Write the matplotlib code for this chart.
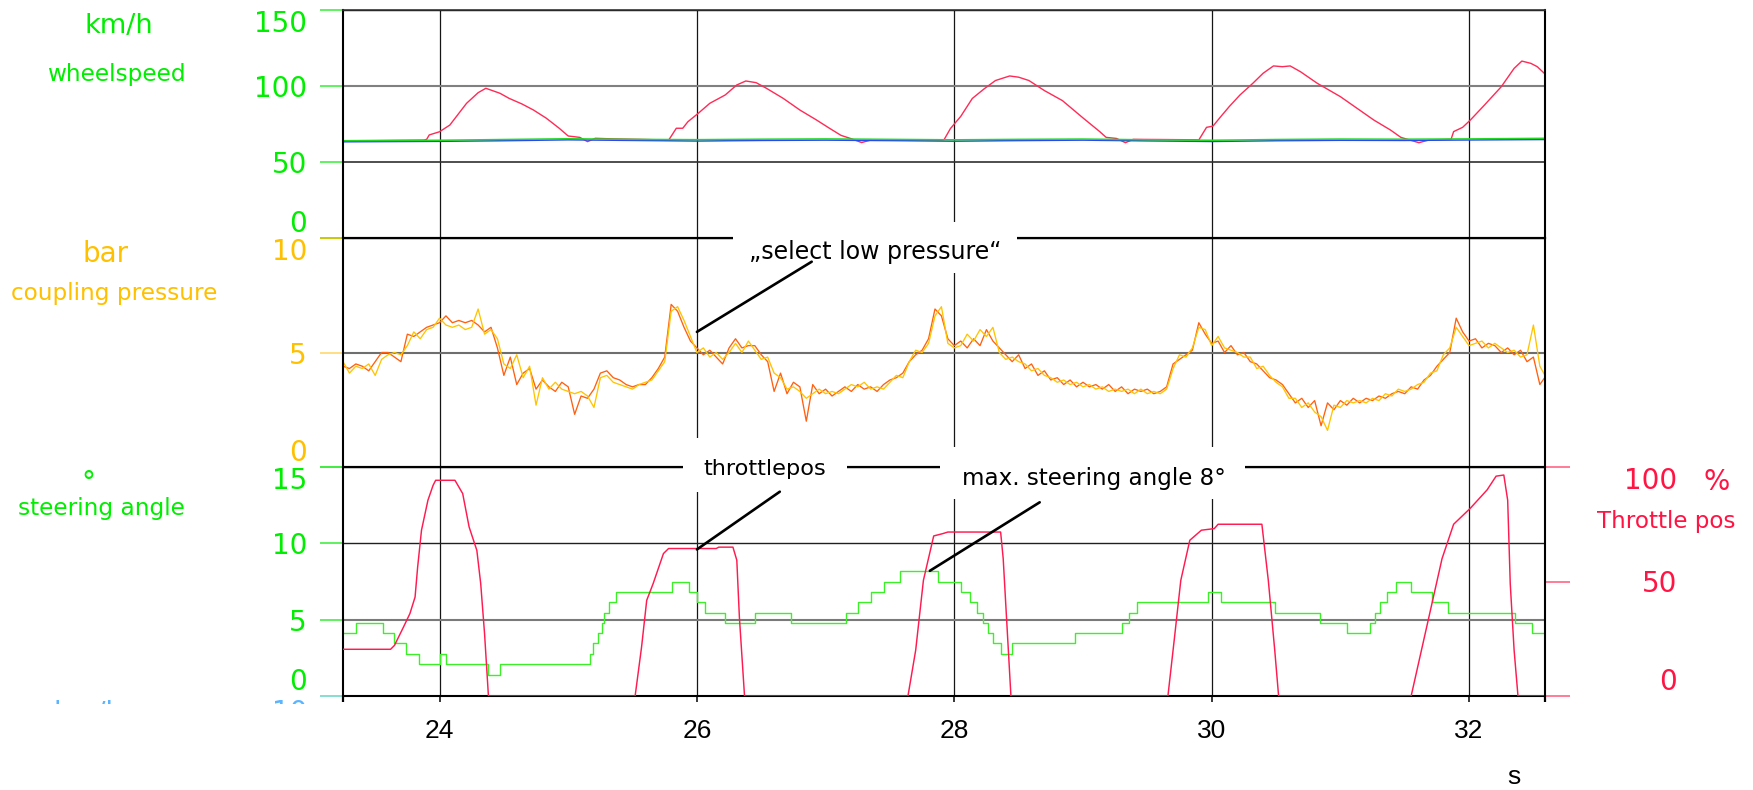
import numpy as np
import matplotlib
matplotlib.use("Agg")
import matplotlib.pyplot as plt
from matplotlib.patches import Rectangle, ConnectionPatch
from matplotlib.transforms import Bbox, TransformedBbox

plt.rcParams['font.family'] = ['DejaVu Sans']

# ---------------- data ----------------
x_range = (23.25, 32.59)
x_ticks = [24, 26, 28, 30, 32]
speed_ticks = [0, 50, 100, 150]
pressure_ticks = [0, 5, 10]
steer_ticks = [0, 5, 10, 15]
throttle_ticks = [0, 50, 100]

# panel 1: wheel speeds (km/h)
speed_red_t = [23.25, 23.5, 23.75, 23.88, 23.90, 23.92, 24.00, 24.08, 24.14, 24.21, 24.30, 24.36,
               24.47, 24.54, 24.64, 24.73, 24.83, 24.93, 25.00, 25.09, 25.15, 25.21, 25.35, 25.55,
               25.75, 25.78, 25.84, 25.89, 25.93, 26.01, 26.10, 26.22, 26.31, 26.38, 26.46, 26.54,
               26.67, 26.80, 26.93, 27.03, 27.12, 27.20, 27.28, 27.35, 27.6, 27.9, 27.92, 27.97,
               28.05, 28.14, 28.23, 28.32, 28.43, 28.50, 28.58, 28.70, 28.84, 29.00, 29.13, 29.18,
               29.26, 29.33, 29.39, 29.6, 29.88, 29.90, 29.96, 30.01, 30.07, 30.14, 30.22, 30.32,
               30.40, 30.48, 30.55, 30.61, 30.69, 30.82, 31.00, 31.13, 31.26, 31.39, 31.47, 31.61,
               31.69, 31.86, 31.88, 31.95, 32.01, 32.12, 32.25, 32.35, 32.41, 32.48, 32.53, 32.59]
speed_red_v = [64.0, 64.1, 64.3, 64.4, 64.9, 67.8, 69.9, 74.3, 80.9, 88.6, 95.6, 98.5,
               95.2, 91.9, 88.2, 84.2, 78.8, 72.2, 67.1, 66.2, 63.4, 65.6, 65.2, 64.9,
               64.5, 64.3, 72.2, 72.2, 76.5, 82.0, 88.6, 94.1, 100.7, 103.3, 102.2, 98.5,
               91.9, 84.2, 77.6, 72.2, 67.5, 65.3, 62.8, 64.4, 64.6, 64.4, 64.6, 72.0,
               80.0, 91.8, 98.0, 103.6, 106.6, 105.8, 103.6, 97.0, 90.4, 79.0, 70.0, 66.2,
               65.5, 62.7, 64.9, 64.8, 64.6, 64.5, 72.8, 73.6, 79.8, 86.8, 94.1, 101.8,
               108.4, 113.2, 112.7, 113.2, 109.4, 101.8, 93.0, 85.3, 77.6, 71.0, 66.2, 62.7,
               64.5, 64.9, 70.0, 72.8, 77.6, 87.5, 99.5, 111.6, 116.4, 114.9, 112.7, 107.9]
speed_flat_t = [23.25, 24.0, 24.5, 25.0, 25.5, 26.0, 26.5, 27.0, 27.5, 28.0, 28.5, 29.0,
                29.5, 30.0, 30.5, 31.0, 31.5, 32.0, 32.59]
speed_green_v = [64.0, 64.3, 64.8, 65.3, 64.9, 64.7, 65.0, 65.2, 64.9, 64.6, 64.9, 65.1,
                 64.6, 64.3, 64.8, 65.1, 65.0, 65.2, 65.6]
speed_blue_v = [63.3, 63.6, 64.0, 64.6, 64.2, 63.8, 64.2, 64.4, 64.1, 63.7, 64.1, 64.4,
                63.9, 63.5, 64.0, 64.3, 64.2, 64.5, 64.8]

# panel 2: coupling pressure (bar), sampled every 0.05 s from 23.25 s
pressure_t0 = 23.25
pressure_dt = 0.05
pressure_orange = [
    4.4, 4.3, 4.5, 4.4, 4.2, 4.6, 5.0, 5.0, 4.8, 4.6,
    5.8, 5.7, 5.9, 6.1, 6.2, 6.3, 6.6, 6.3, 6.4, 6.3,
    6.4, 6.2, 5.9, 6.1, 5.2, 4.0, 4.8, 3.6, 4.1, 4.3,
    3.4, 3.8, 3.5, 3.3, 3.7, 3.5, 2.3, 3.1, 3.0, 3.4,
    4.1, 4.2, 3.9, 3.8, 3.6, 3.5, 3.6, 3.6, 3.9, 4.3,
    4.8, 7.1, 6.8, 6.1, 5.5, 5.2, 4.9, 5.1, 4.8, 4.5,
    5.2, 5.6, 5.2, 5.3, 5.3, 4.9, 4.6, 3.3, 4.1, 3.2,
    3.7, 3.5, 2.0, 3.6, 3.2, 3.4, 3.1, 3.3, 3.5, 3.3,
    3.6, 3.4, 3.5, 3.3, 3.6, 3.8, 3.9, 4.1, 4.6, 4.9,
    5.1, 5.6, 6.9, 6.6, 5.6, 5.3, 5.5, 5.2, 5.6, 5.3,
    6.0, 5.5, 5.2, 4.9, 4.6, 4.9, 4.3, 4.5, 4.0, 4.2,
    3.8, 3.9, 3.6, 3.8, 3.5, 3.7, 3.5, 3.6, 3.4, 3.6,
    3.3, 3.5, 3.2, 3.4, 3.3, 3.4, 3.2, 3.3, 3.5, 4.5,
    4.7, 4.9, 5.1, 6.3, 5.8, 5.4, 5.5, 5.0, 5.3, 4.9,
    5.0, 4.6, 4.5, 4.2, 3.9, 3.8, 3.6, 3.2, 2.8, 3.0,
    2.6, 2.9, 1.8, 2.8, 2.5, 2.9, 2.7, 3.0, 2.8, 3.0,
    2.9, 3.1, 3.0, 3.2, 3.3, 3.2, 3.5, 3.4, 3.8, 4.0,
    4.4, 4.7, 5.0, 6.5, 5.9, 5.5, 5.6, 5.2, 5.4, 5.3,
    5.0, 5.2, 4.9, 5.1, 4.6, 4.8, 3.6, 4.0]
pressure_yellow = [
    4.6, 4.1, 4.4, 4.3, 4.5, 4.0, 4.7, 4.9, 5.0, 4.9,
    5.3, 5.9, 5.6, 6.0, 6.1, 6.5, 6.2, 6.1, 6.2, 6.0,
    6.1, 6.9, 5.8, 6.0, 5.6, 4.5, 4.3, 4.9, 3.9, 4.4,
    2.7, 3.9, 3.4, 3.7, 3.4, 3.3, 3.2, 3.3, 3.1, 2.6,
    3.9, 4.0, 3.7, 3.6, 3.5, 3.4, 3.6, 3.7, 3.8, 4.2,
    4.6, 6.8, 7.0, 6.4, 5.7, 5.0, 5.2, 4.8, 5.0, 4.7,
    5.0, 5.4, 5.0, 5.5, 5.1, 4.7, 4.8, 4.1, 3.9, 3.4,
    3.5, 3.3, 3.0, 3.2, 3.4, 3.2, 3.3, 3.2, 3.4, 3.6,
    3.5, 3.7, 3.4, 3.5, 3.4, 3.7, 4.0, 3.9, 4.6, 5.1,
    5.0, 5.4, 6.6, 7.0, 5.4, 5.2, 5.3, 5.8, 5.5, 6.0,
    5.7, 6.1, 5.0, 4.7, 4.8, 4.6, 4.5, 4.2, 4.3, 4.0,
    3.9, 3.7, 3.8, 3.6, 3.7, 3.5, 3.6, 3.4, 3.5, 3.3,
    3.4, 3.3, 3.4, 3.2, 3.4, 3.2, 3.3, 3.2, 3.4, 4.3,
    4.9, 4.8, 5.2, 6.1, 6.0, 5.3, 5.7, 5.2, 5.1, 5.0,
    4.8, 4.8, 4.3, 4.4, 4.0, 3.7, 3.5, 3.0, 3.0, 2.6,
    2.8, 2.4, 2.2, 1.6, 2.7, 2.6, 2.9, 2.8, 2.9, 2.8,
    3.0, 2.9, 3.2, 3.1, 3.4, 3.3, 3.4, 3.6, 3.7, 4.1,
    4.2, 4.9, 5.2, 6.1, 5.7, 5.3, 5.4, 5.5, 5.2, 5.4,
    5.2, 5.0, 5.1, 4.8, 4.9, 6.2, 4.4, 3.9]

# panel 3: steering angle (deg, step signal) and throttle position (%)
steer_t = [23.25, 23.35, 23.56, 23.65, 23.74, 23.84, 24.00, 24.05, 24.38, 24.47, 25.17, 25.19,
           25.23, 25.26, 25.28, 25.32, 25.37, 25.81, 25.94, 26.00, 26.06, 26.22, 26.45, 26.73,
           27.16, 27.25, 27.35, 27.45, 27.58, 27.87, 28.05, 28.12, 28.18, 28.22, 28.26, 28.30,
           28.36, 28.45, 28.94, 29.30, 29.36, 29.42, 29.97, 30.07, 30.49, 30.84, 31.05, 31.23,
           31.27, 31.31, 31.36, 31.43, 31.55, 31.71, 31.84, 32.36, 32.49, 32.59]
steer_v = [4.1, 4.8, 4.1, 3.45, 2.75, 2.1, 2.75, 2.1, 1.4, 2.1, 2.75, 3.45,
           4.1, 4.75, 5.45, 6.15, 6.8, 7.5, 6.8, 6.15, 5.45, 4.8, 5.45, 4.8,
           5.45, 6.15, 6.8, 7.5, 8.2, 7.5, 6.8, 6.15, 5.45, 4.8, 4.1, 3.45,
           2.75, 3.45, 4.1, 4.8, 5.45, 6.15, 6.8, 6.15, 5.45, 4.8, 4.1, 4.8,
           5.45, 6.15, 6.8, 7.5, 6.8, 6.15, 5.45, 4.8, 4.1, 4.1]
throttle_t = [23.25, 23.62, 23.65, 23.72, 23.77, 23.81, 23.83, 23.86, 23.91, 23.95, 23.97, 24.12,
              24.18, 24.23, 24.29, 24.32, 24.35, 24.38, 25.52, 25.57, 25.61, 25.66, 25.74, 25.78,
              26.15, 26.17, 26.28, 26.31, 26.33, 26.37, 27.64, 27.70, 27.76, 27.84, 27.91, 27.95,
              28.36, 28.38, 28.41, 28.44, 29.66, 29.71, 29.76, 29.83, 29.92, 30.02, 30.05, 30.39,
              30.44, 30.49, 30.52, 31.55, 31.63, 31.71, 31.79, 31.88, 32.01, 32.14, 32.21, 32.27,
              32.30, 32.32, 32.35, 32.38, 32.59]
throttle_v = [20.4, 20.4, 22.1, 30.1, 36.0, 43.2, 56.3, 72.4, 85.5, 92.0, 94.2, 94.2,
              88.4, 73.8, 63.6, 49.1, 27.2, 0.0, 0.0, 21.4, 41.8, 49.1, 62.2, 64.4,
              64.4, 65.0, 65.0, 59.3, 34.5, 0.0, 0.0, 20.0, 50.5, 69.9, 70.9, 71.6,
              71.6, 60.0, 30.0, 0.0, 0.0, 25.0, 50.5, 68.0, 72.4, 73.1, 75.0, 75.0,
              50.5, 20.0, 0.0, 0.0, 20.0, 40.0, 60.0, 75.0, 82.0, 90.0, 96.0, 96.5,
              85.5, 49.0, 20.0, 0.0, 0.0]

# ---------------- layout helpers ----------------
W, H = 1753, 790


def rect(x0, y0, x1, y1):
    return [x0 / W, 1 - y1 / H, (x1 - x0) / W, (y1 - y0) / H]


def fx(x):
    return x / W


def fy(y):
    return 1 - y / H


GREEN = '#00ee00'
AMBER = '#ffc000'
RED = '#ff1444'

fig = plt.figure(figsize=(W / 100, H / 100), dpi=100)
fig.patch.set_facecolor('white')

ax1 = fig.add_axes(rect(343, 10, 1545, 238))
ax2 = fig.add_axes(rect(343, 238, 1545, 467), sharex=ax1)
ax3 = fig.add_axes(rect(343, 467, 1545, 696), sharex=ax1)
ax3r = ax3.twinx()

# ---- series ----
ax1.plot(speed_red_t, speed_red_v, color='#ff2a55', lw=1.0, zorder=2)
ax1.plot(speed_flat_t, speed_blue_v, color='#2a45ff', lw=1.1, zorder=2)
ax1.plot(speed_flat_t, speed_green_v, color='#22d822', lw=1.1, zorder=2)

pressure_t = pressure_t0 + pressure_dt * np.arange(len(pressure_orange))
ax2.plot(pressure_t, pressure_orange, color='#ff6010', lw=0.95)
ax2.plot(pressure_t0 + pressure_dt * np.arange(len(pressure_yellow)), pressure_yellow,
         color='#ffc400', lw=0.95)

ax3.plot(steer_t, steer_v, drawstyle='steps-post', color='#3cf028', lw=1.0)
ax3r.plot(throttle_t, throttle_v, color='#ff1a50', lw=1.05)

# ---- axes styling ----
ax1.set_ylim(0, 150)
ax2.set_ylim(0, 10)
ax3.set_ylim(0, 15)
ax3r.set_ylim(0, 100)
ax1.set_xlim(*x_range)

ax1.set_yticks(speed_ticks)
ax2.set_yticks(pressure_ticks)
ax3.set_yticks(steer_ticks)
ax3r.set_yticks(throttle_ticks)
ax3.set_xticks(x_ticks)

for ax, lc in ((ax1, GREEN), (ax2, AMBER), (ax3, GREEN)):
    ax.set_facecolor('white')
    ax.tick_params(axis='y', which='major', direction='out', length=16.6, width=1.2,
                   pad=9.4, labelsize=20, labelcolor=lc, right=False)
    ax.grid(True, which='major')
    for sp in ax.spines.values():
        sp.set_linewidth(1.5)
        sp.set_color('black')
    for t in ax.xaxis.get_major_ticks():
        t.gridline.set_color('#151515')
        t.gridline.set_linewidth(0.9)

ax1.spines['top'].set_linewidth(1.2)
ax1.spines['top'].set_color('#333333')

for ax in (ax1, ax2):
    ax.tick_params(axis='x', which='both', length=0, labelbottom=False)

ax3.tick_params(axis='x', which='major', direction='out', length=4.3, width=1.1,
                pad=12, labelsize=19, labelcolor='black')
ax3.set_xticks(list(x_range), minor=True)
ax3.tick_params(axis='x', which='minor', direction='out', length=4.3, width=1.6)
for lab in ax3.get_xticklabels():
    lab.set_fontfamily(['Liberation Sans', 'DejaVu Sans'])


def style_y(ax, tick_colors, grid_colors, grid_widths):
    ticks = ax.yaxis.get_major_ticks()
    for t, tc, gc, gw in zip(ticks, tick_colors, grid_colors, grid_widths):
        t.tick1line.set_markeredgecolor(tc)
        t.gridline.set_color(gc)
        t.gridline.set_linewidth(gw)
    ticks[0].label1.set_va('bottom')
    ticks[-1].label1.set_va('top')


style_y(ax1, ['#44f044'] * 4, ['k', '#303030', '#808080', 'k'], [1, 1.2, 1.5, 1])
style_y(ax2, ['#30e030', '#ffd870', '#e0c000'], ['k', '#6e6e6e', 'k'], [1, 1.5, 1])
style_y(ax3, ['#70d8c8', '#44ee44', '#44ee44', '#44ee44'], ['k', '#7a7a7a', '#202020', 'k'],
        [1, 1.5, 1.0, 1])

# right throttle axis
ax3r.patch.set_visible(False)
for name, sp in ax3r.spines.items():
    sp.set_visible(name == 'right')
    sp.set_linewidth(1.5)
    sp.set_color('black')
ax3.spines['right'].set_visible(False)
ax3r.tick_params(axis='y', direction='out', length=18, width=1.2, color='#ff6688',
                 pad=77, labelsize=20, labelcolor=RED)
rticks = ax3r.yaxis.get_major_ticks()
for t in rticks:
    t.label2.set_ha('right')
rticks[0].label2.set_va('bottom')
rticks[-1].label2.set_va('top')

# ---- channel labels ----
fig.text(fx(119), fy(33), 'km/h', color=GREEN, fontsize=19.5, ha='center', va='baseline')
fig.text(fx(116.5), fy(81), 'wheelspeed', color=GREEN, fontsize=16.7, ha='center', va='baseline')
fig.text(fx(106), fy(261.5), 'bar', color=AMBER, fontsize=20, ha='center', va='baseline')
fig.text(fx(114.5), fy(300), 'coupling pressure', color=AMBER, fontsize=16.7, ha='center',
         va='baseline')
fig.text(fx(88), fy(491), '°', color=GREEN, fontsize=20, ha='center', va='baseline')
fig.text(fx(101), fy(515.5), 'steering angle', color=GREEN, fontsize=16.7, ha='center',
         va='baseline')
fig.text(fx(1717), fy(490), '%', color=RED, fontsize=20, ha='center', va='baseline')
fig.text(fx(1666), fy(528), 'Throttle pos', color=RED, fontsize=16.6, ha='center',
         va='baseline')
fig.text(fx(1514), fy(784), 's', color='black', fontsize=19, ha='center', va='baseline',
         family=['Liberation Sans', 'DejaVu Sans'])

# labels of a further (cut-off) channel: only their tops remain visible
cut_box = TransformedBbox(Bbox.from_extents(0, fy(704), 1, 1), fig.transFigure)
for s, x, ha in (('km/h', 89, 'center'), ('10', 307, 'right')):
    t = fig.text(fx(x), fy(721), s, color='#5ab4ff', fontsize=20, ha=ha, va='baseline')
    t.set_clip_box(cut_box)
    t.set_clip_on(True)

# ---- annotations ----
boxes = [(733, 222, 1017, 273), (683, 438, 847, 492), (940, 447, 1245, 499)]
for x0, y0, x1, y1 in boxes:
    fig.add_artist(Rectangle((fx(x0), fy(y1)), (x1 - x0) / W, (y1 - y0) / H,
                             transform=fig.transFigure, facecolor='white', edgecolor='none',
                             zorder=5))

notes = [('„select low pressure“', 875, 251.7, 17),
         ('throttlepos', 765, 469, 16.2),
         ('max. steering angle 8°', 1093.6, 478, 16.6)]
for s, x, y, fs in notes:
    fig.text(fx(x), fy(y), s, color='black', fontsize=fs, ha='center', va='center', zorder=6)

leaders = [((811.7, 261.7), (26.0, 5.9), ax2),
           ((779.8, 491.7), (26.0, 9.6), ax3),
           ((1039.7, 502.3), (27.81, 8.2), ax3)]
for (px, py), xy, ax in leaders:
    con = ConnectionPatch(xyA=(fx(px), fy(py)), coordsA=fig.transFigure,
                          xyB=xy, coordsB=ax.transData, color='black', lw=1.9, zorder=7)
    fig.add_artist(con)

fig.savefig('out.png', dpi=100, facecolor='white')
